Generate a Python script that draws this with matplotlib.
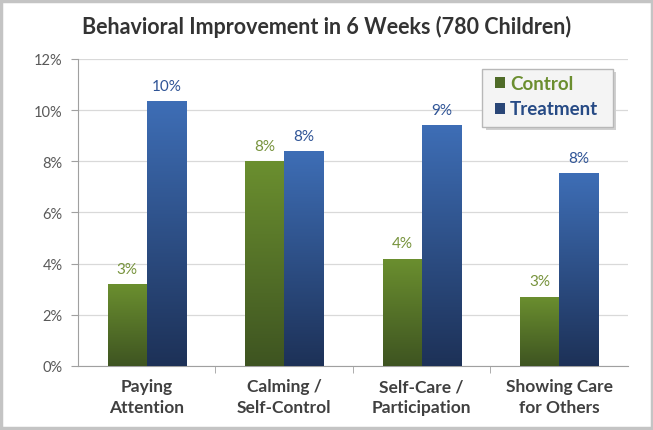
import numpy as np
import matplotlib
matplotlib.use("Agg")
import matplotlib.pyplot as plt
from matplotlib.colors import LinearSegmentedColormap
from matplotlib.patches import Rectangle
from matplotlib.ticker import FuncFormatter

categories = ["Paying\nAttention", "Calming /\nSelf-Control", "Self-Care /\nParticipation", "Showing Care\nfor Others"]
control = [3.2, 8.0, 4.2, 2.7]
treatment = [10.35, 8.4, 9.42, 7.53]
control_labels = ["3%", "8%", "4%", "3%"]
treatment_labels = ["10%", "8%", "9%", "8%"]
title = "Behavioral Improvement in 6 Weeks (780 Children)"

plt.rcParams['font.family'] = ['Lato', 'DejaVu Sans']

fig = plt.figure(figsize=(6.53, 4.31), dpi=100)
ax = fig.add_axes([0.1194, 0.1485, 0.8423, 0.7123])

green_cmap = LinearSegmentedColormap.from_list("g", ["#3e5421", "#6b8f2f"])
blue_cmap = LinearSegmentedColormap.from_list("b", ["#1d3157", "#3e6eb6"])
grad = np.linspace(0, 1, 256).reshape(-1, 1)

x = np.arange(len(categories))
w = 0.285


def gradient_bars(xs, vals, cmap):
    bars = ax.bar(xs, vals, w, color="none", edgecolor="none", zorder=3)
    for b in bars:
        x0 = b.get_x()
        h = b.get_height()
        im = ax.imshow(grad, extent=[x0, x0 + w, 0, h], origin="lower", aspect="auto",
                       cmap=cmap, zorder=3)
        im.set_clip_path(b)
    return bars


gradient_bars(x - w / 2, control, green_cmap)
gradient_bars(x + w / 2, treatment, blue_cmap)

for i in range(len(categories)):
    ax.text(x[i] - w / 2, control[i] + 0.33, control_labels[i], ha="center", va="bottom",
            fontsize=11, color="#77933c")
    ax.text(x[i] + w / 2, treatment[i] + 0.33, treatment_labels[i], ha="center", va="bottom",
            fontsize=11, color="#2f5496")

ax.set_xlim(-0.5, 3.5)
ax.set_ylim(0, 12)
ax.set_yticks(range(0, 13, 2))
ax.yaxis.set_major_formatter(FuncFormatter(lambda v, p: f"{v:.0f}%"))
ax.set_xticks(x)
ax.set_xticklabels(categories, fontsize=12.5, fontweight="bold", color="#404040", linespacing=1.35)
ax.set_xticks([0.5, 1.5, 2.5], minor=True)
ax.tick_params(axis="x", which="major", length=0, pad=9)
ax.tick_params(axis="x", which="minor", length=5, color="#a0a0a0")
ax.tick_params(axis="y", length=5, color="#a0a0a0", labelsize=10.5, labelcolor="#595959", pad=6)
ax.grid(axis="y", color="#d9d9d9", linewidth=0.9, zorder=0)
ax.set_axisbelow(True)
for s in ["top", "right"]:
    ax.spines[s].set_visible(False)
for s in ["left", "bottom"]:
    ax.spines[s].set_color("#a0a0a0")

fig.text(0.5, 0.937, title, ha="center", va="center", fontsize=15.5, fontweight="bold", color="#333333")

# legend box with shadow
shadow = Rectangle((0.7435, 0.695), 0.2, 0.135, transform=fig.transFigure,
                   facecolor="#d0d0d0", edgecolor="none", zorder=4)
box = Rectangle((0.738, 0.703), 0.2, 0.135, transform=fig.transFigure,
                facecolor="#f4f4f4", edgecolor="#b8b8b8", linewidth=1, zorder=5)
fig.patches.extend([shadow, box])
fig.patches.append(Rectangle((0.758, 0.794), 0.016, 0.024, transform=fig.transFigure,
                             facecolor="#4f6b28", edgecolor="none", zorder=6))
fig.patches.append(Rectangle((0.758, 0.734), 0.016, 0.024, transform=fig.transFigure,
                             facecolor="#2a4677", edgecolor="none", zorder=6))
fig.text(0.781, 0.805, "Control", va="center", fontsize=13.5, fontweight="bold", color="#6b8e2f", zorder=7)
fig.text(0.781, 0.745, "Treatment", va="center", fontsize=13.5, fontweight="bold", color="#264a85", zorder=7)

# outer frame
fig.patches.append(Rectangle((0.002, 0.004), 0.996, 0.992, transform=fig.transFigure,
                             facecolor="none", edgecolor="#c4c4c4", linewidth=2.5))

fig.savefig("out.png", dpi=100)
